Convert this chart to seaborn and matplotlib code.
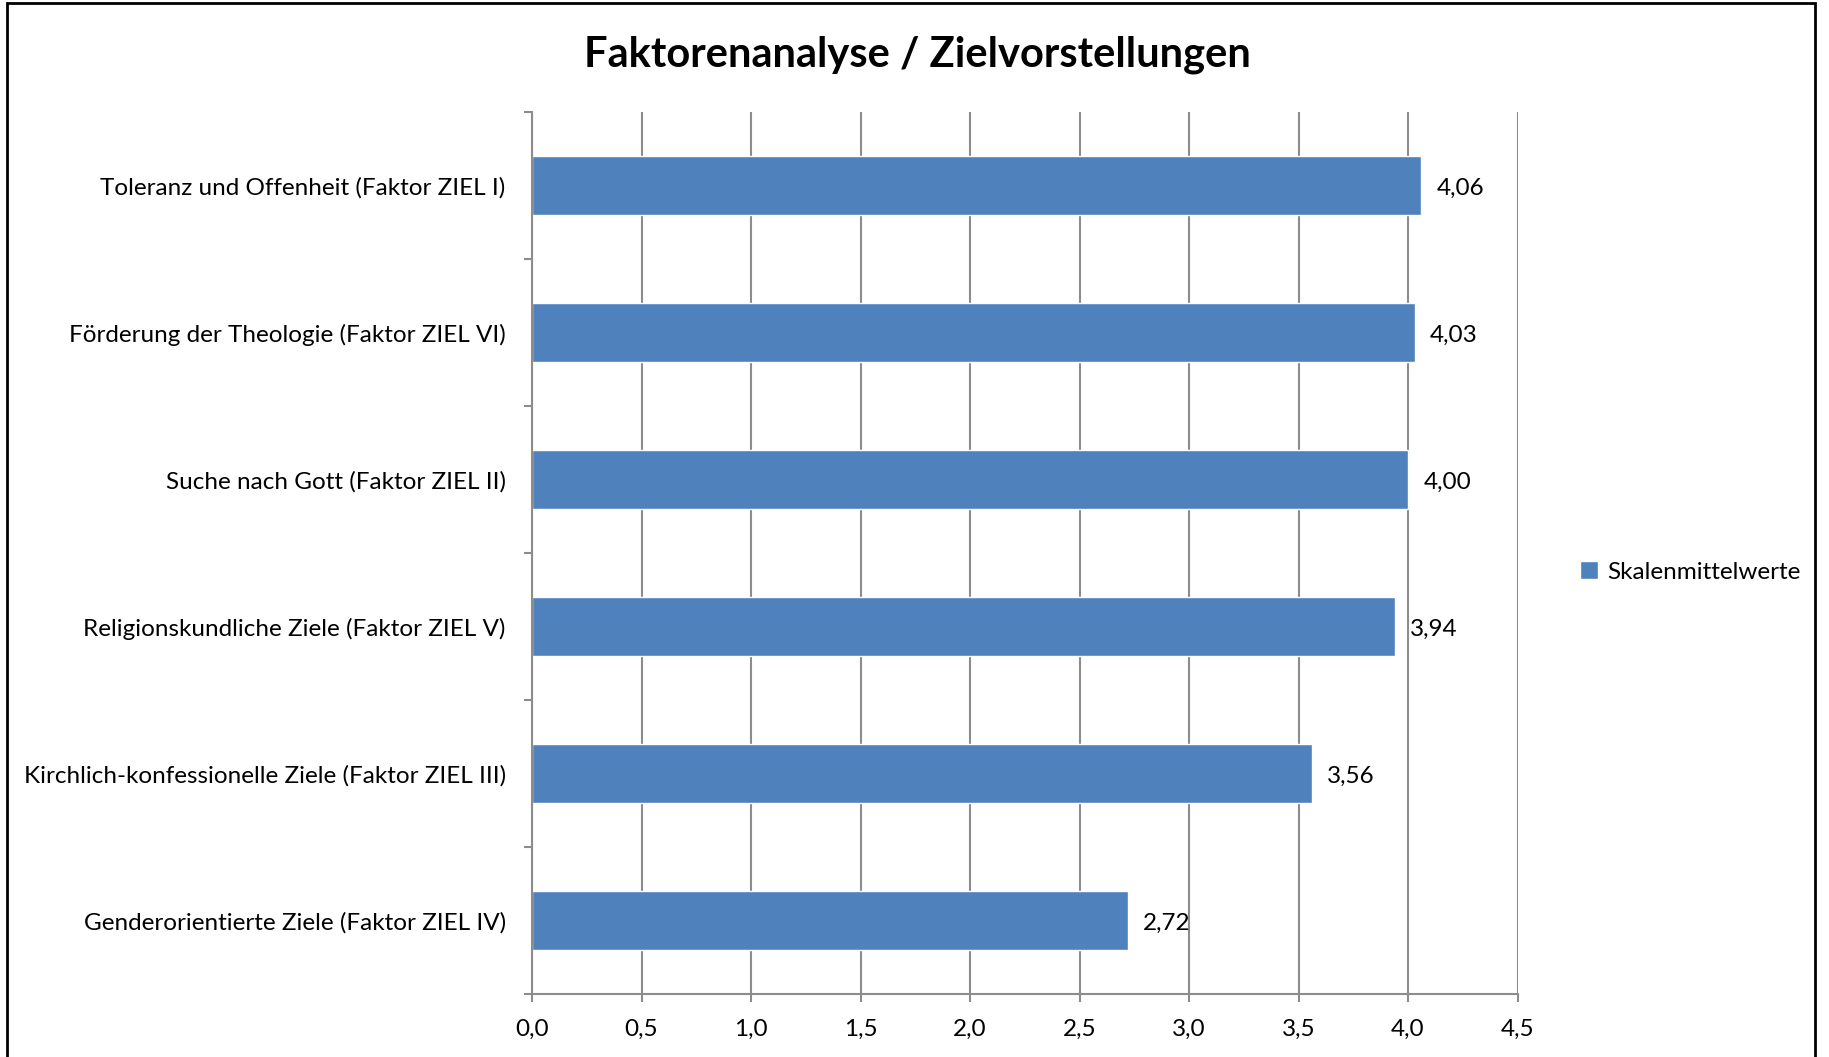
import numpy as np
import pandas as pd
import matplotlib
matplotlib.use("Agg")
import matplotlib.pyplot as plt
import seaborn as sns
from matplotlib.patches import Rectangle
from matplotlib.ticker import FuncFormatter, FixedLocator

# Daten
kategorien = [
    "Toleranz und Offenheit (Faktor ZIEL I)",
    "Förderung der Theologie (Faktor ZIEL VI)",
    "Suche nach Gott (Faktor ZIEL II)",
    "Religionskundliche Ziele (Faktor ZIEL V)",
    "Kirchlich-konfessionelle Ziele (Faktor ZIEL III)",
    "Genderorientierte Ziele (Faktor ZIEL IV)",
]
werte = [4.06, 4.03, 4.00, 3.94, 3.56, 2.72]
serie = "Skalenmittelwerte"

df = pd.DataFrame({"kategorie": kategorien, "wert": werte})

sns.set_theme(style="white")
plt.rcParams["font.family"] = ["Lato", "DejaVu Sans"]

BLAU = "#4F81BD"
GRAU = "#8C8C8C"
FS = 17.5

fig = plt.figure(figsize=(18.29, 10.57), dpi=100)
ax = fig.add_axes([0.2909, 0.0596, 0.5388, 0.8344])

sns.barplot(data=df, x="wert", y="kategorie", orient="h", color=BLAU,
            saturation=1, width=0.4, ax=ax, label=serie)

ax.set_xlim(0, 4.5)
ax.set_ylim(5.5, -0.5)
ax.set_xticks(np.arange(0, 4.51, 0.5))
ax.xaxis.set_major_formatter(FuncFormatter(lambda v, p: f"{v:.1f}".replace(".", ",")))
ax.set_xlabel("")
ax.set_ylabel("")

# Gitter
ax.grid(axis="x", color=GRAU, linewidth=1.5)
ax.set_axisbelow(True)
for s in ["top", "right"]:
    ax.spines[s].set_visible(False)
for s in ["left", "bottom"]:
    ax.spines[s].set_color(GRAU)
    ax.spines[s].set_linewidth(1.5)

# Striche zwischen den Kategorien
ax.yaxis.set_minor_locator(FixedLocator(np.arange(-0.5, 5.6, 1.0)))
ax.tick_params(axis="y", which="major", length=0, pad=19, labelsize=FS, labelcolor="black")
ax.tick_params(axis="y", which="minor", length=6, width=1.5, color=GRAU, left=True)
ax.tick_params(axis="x", which="major", length=6, width=1.5, color=GRAU, bottom=True,
               pad=12, labelsize=FS, labelcolor="black")

labels = [f"{v:.2f}".replace(".", ",") for v in werte]
texte = ax.bar_label(ax.containers[0], labels=labels, padding=11, fontsize=FS, color="black")
for t in texte:
    t.xyann = (11, -2)

fig.suptitle("Faktorenanalyse / Zielvorstellungen", fontsize=30, fontweight="bold",
             color="black", x=0.5015, y=0.948, va="center")

leg = ax.legend(loc="center left", bbox_to_anchor=(0.852, 1 - 572 / 1057),
                bbox_transform=fig.transFigure, frameon=False, fontsize=FS,
                handlelength=0.75, handleheight=0.75, handletextpad=0.35)
for t in leg.get_texts():
    t.set_color("black")

# Rahmen
fig.patches.append(Rectangle((7 / 1829, -0.02), (1815 - 7) / 1829, 1.02 - 3 / 1057,
                             transform=fig.transFigure, fill=False,
                             edgecolor="black", linewidth=2))

fig.savefig("out.png", dpi=100)
